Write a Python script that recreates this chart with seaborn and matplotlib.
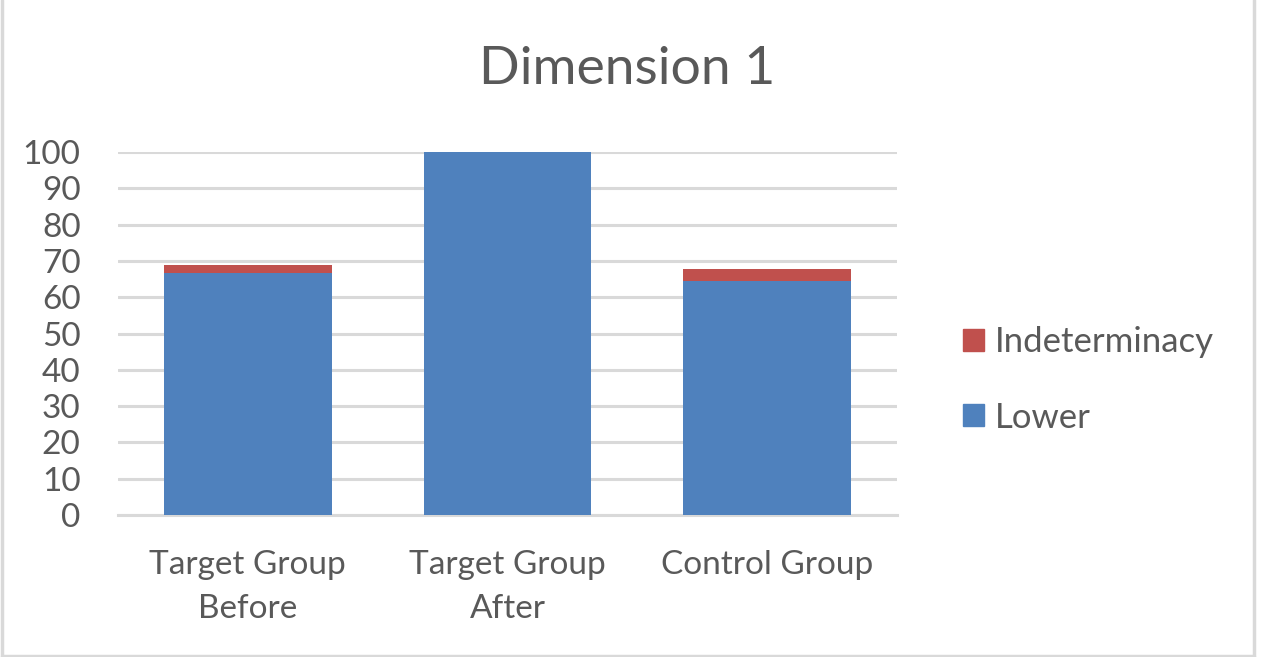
import numpy as np
import pandas as pd
import matplotlib.pyplot as plt
import seaborn as sns
from matplotlib.patches import Patch
from matplotlib.lines import Line2D

# data
groups = ["Target Group\nBefore", "Target Group\nAfter", "Control Group"]
lower = [66.7, 100.0, 64.4]
indeterminacy = [2.2, 0.0, 3.4]
y_ticks = list(range(0, 101, 10))

blue = "#4F81BD"
red = "#C0504D"
text_col = "#595959"
grid_col = "#D9D9D9"

df = pd.DataFrame({"group": groups, "Lower": lower, "Indeterminacy": indeterminacy})
df["total"] = df["Lower"] + df["Indeterminacy"]

sns.set_theme(style="white")
plt.rcParams["font.family"] = ["Lato", "DejaVu Sans"]

fig = plt.figure(figsize=(12.73, 6.57), dpi=100)
ax = fig.add_axes([118 / 1273, 1 - 515 / 657, (897 - 118) / 1273, (515 - 152) / 657])

# stacked: total in red underneath, lower in blue on top
sns.barplot(data=df, x="group", y="total", color=red, width=0.645,
            saturation=1, linewidth=0, ax=ax, zorder=3)
sns.barplot(data=df, x="group", y="Lower", color=blue, width=0.645,
            saturation=1, linewidth=0, ax=ax, zorder=4)

ax.set_ylim(0, 100)
ax.set_xlim(-0.5, 2.5)
ax.set_yticks(y_ticks)
ax.yaxis.grid(True, color=grid_col, linewidth=2.2, zorder=0)
ax.set_axisbelow(True)
for s in ["top", "right", "left"]:
    ax.spines[s].set_visible(False)
ax.spines["bottom"].set_color(grid_col)
ax.spines["bottom"].set_linewidth(2.2)
ax.set_xlabel("")
ax.set_ylabel("")
ax.tick_params(axis="y", length=0, pad=27, labelsize=24, labelcolor=text_col)
ax.tick_params(axis="x", length=0, pad=25, labelsize=24, labelcolor=text_col)
for lbl in ax.get_xticklabels():
    lbl.set_linespacing(1.6)

fig.text(627 / 1273, 1 - 69 / 657, "Dimension 1", ha="center", va="center",
         fontsize=38.5, color=text_col)

handles = [Patch(color=red, label="Indeterminacy"), Patch(color=blue, label="Lower")]
fig.legend(handles=handles, loc="center left", bbox_to_anchor=(932 / 1273, 1 - 380 / 657),
           frameon=False, fontsize=25, labelcolor=text_col, handlelength=0.6,
           handleheight=0.6, handletextpad=0.3, labelspacing=1.25)

# light frame around the chart (no top edge visible in the reference)
for xs, ys in [([1.5, 1.5], [0, 656]), ([1254, 1254], [0, 656]), ([1.5, 1254], [655.5, 655.5])]:
    fig.add_artist(Line2D([x / 1273 for x in xs], [1 - y / 657 for y in ys],
                          transform=fig.transFigure, color=grid_col, linewidth=2.5))

fig.savefig("out.png", dpi=100, facecolor="white")
